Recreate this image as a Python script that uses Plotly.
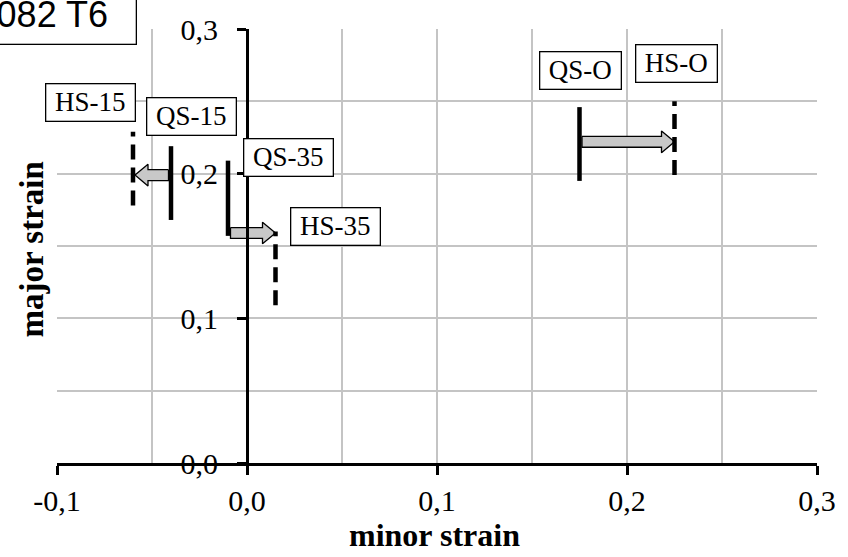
import plotly.graph_objects as go

# ---- data ----
labels = ["QS-15", "HS-15", "QS-35", "HS-35", "QS-O", "HS-O"]
seg_x = [-0.040, -0.060, -0.010, 0.015, 0.175, 0.225]
seg_ymin = [0.168, 0.178, 0.157, 0.109, 0.195, 0.199]
seg_ymax = [0.219, 0.229, 0.209, 0.160, 0.246, 0.250]
seg_dashed = [False, True, False, True, False, True]

label_x = [-0.031, -0.084, 0.0202, 0.0451, 0.175, 0.2255]
label_y = [0.2364, 0.246, 0.208, 0.160, 0.2676, 0.2726]

# arrows: from QS index to HS index at a given major strain
arrow_from = [0, 2, 4]
arrow_to = [1, 3, 5]
arrow_y = [0.199, 0.159, 0.222]

x_range = [-0.1, 0.3]
y_range = [0.0, 0.3]
x_ticks = [-0.1, 0.0, 0.1, 0.2, 0.3]
x_ticktext = ["-0,1", "0,0", "0,1", "0,2", "0,3"]
y_ticks = [0.0, 0.1, 0.2, 0.3]
y_ticktext = ["0,0", "0,1", "0,2", "0,3"]

W, H = 848, 557
ML, MR, MT, MB = 57, 31, 22, 94
pxx = (W - ML - MR) / (x_range[1] - x_range[0])
pxy = (H - MT - MB) / (y_range[1] - y_range[0])

fig = go.Figure()

# block arrows
shaft_h = 5.5 / pxy
head_h = 11.0 / pxy
head_l = 13.0 / pxx
start_off = 2.5 / pxx
for fi, ti, ay in zip(arrow_from, arrow_to, arrow_y):
    x0 = seg_x[fi]
    x1 = seg_x[ti]
    d = 1 if x1 > x0 else -1
    xs = x0 + d * start_off
    xt = x1 - d * (0 if d > 0 else 2.0 / pxx)
    xh = xt - d * head_l
    px = [xs, xh, xh, xt, xh, xh, xs, xs]
    py = [ay + shaft_h, ay + shaft_h, ay + head_h, ay, ay - head_h, ay - shaft_h, ay - shaft_h, ay + shaft_h]
    fig.add_trace(go.Scatter(x=px, y=py, mode="lines", fill="toself",
                             fillcolor="#c8c8c8", line=dict(color="black", width=1.3),
                             hoverinfo="skip", showlegend=False))

# vertical segments
for x, y0, y1, dsh in zip(seg_x, seg_ymin, seg_ymax, seg_dashed):
    fig.add_trace(go.Scatter(x=[x, x], y=[y0, y1], mode="lines",
                             line=dict(color="black", width=4.5,
                                       dash="15px,8px" if dsh else "solid"),
                             hoverinfo="skip", showlegend=False))

annotations = []
for t, lx, ly in zip(labels, label_x, label_y):
    wide = not t.endswith("O")
    annotations.append(dict(
        x=lx, y=ly, xref="x", yref="y", text=t, showarrow=False,
        font=dict(family="Liberation Serif", size=27, color="black"),
        bgcolor="white", bordercolor="black", borderwidth=1.3, borderpad=2,
        width=84 if wide else 76, height=32, xanchor="center", yanchor="middle",
        xshift=3 if wide else 1, yshift=5))

# title box (partly off the canvas)
annotations.append(dict(
    x=(137 - ML) / (W - ML - MR), y=(H - MB - 38) / (H - MT - MB),
    xref="paper", yref="paper", xanchor="right", yanchor="bottom",
    text="6082 T6", showarrow=False,
    font=dict(family="Liberation Sans", size=36, color="black"),
    bgcolor="white", bordercolor="black", borderwidth=1.3, borderpad=0,
    width=186, height=58))

# axis titles
annotations.append(dict(
    x=(434 - ML) / (W - ML - MR), y=(H - MB - 536) / (H - MT - MB),
    xref="paper", yref="paper", xanchor="center", yanchor="middle",
    text="<b>minor strain</b>", showarrow=False,
    font=dict(family="Liberation Serif", size=32, color="black")))
annotations.append(dict(
    x=(32 - ML) / (W - ML - MR), y=(H - MB - 246) / (H - MT - MB),
    xref="paper", yref="paper", xanchor="center", yanchor="middle",
    text="<b>major strain</b>", showarrow=False, textangle=-90,
    font=dict(family="Liberation Serif", size=33, color="black")))

grid_c = "#c4c4c4"
fig.update_layout(
    width=W, height=H,
    margin=dict(l=ML, r=MR, t=MT, b=MB, pad=0),
    paper_bgcolor="white", plot_bgcolor="white",
    font=dict(family="Liberation Serif", size=30, color="black"),
    showlegend=False,
    annotations=annotations,
    xaxis=dict(range=x_range, tickvals=x_ticks, ticktext=x_ticktext,
               showgrid=True, gridcolor=grid_c, gridwidth=1.5,
               minor=dict(dtick=0.05, tick0=0, showgrid=True, gridcolor=grid_c, gridwidth=1.5),
               zeroline=False, showline=True, linecolor="black", linewidth=3,
               ticks="outside", ticklen=9, tickwidth=3, tickcolor="black",
               ticklabelstandoff=0, fixedrange=True),
    yaxis=dict(range=y_range, tickvals=y_ticks, ticktext=y_ticktext,
               showgrid=True, gridcolor=grid_c, gridwidth=1.5,
               minor=dict(dtick=0.05, tick0=0, showgrid=True, gridcolor=grid_c, gridwidth=1.5),
               zeroline=False, showline=True, linecolor="black", linewidth=3,
               anchor="free", position=(0 - x_range[0]) / (x_range[1] - x_range[0]),
               ticks="outside", ticklen=9, tickwidth=3, tickcolor="black",
               ticklabelstandoff=13, fixedrange=True),
)

fig.write_html("out.html")
